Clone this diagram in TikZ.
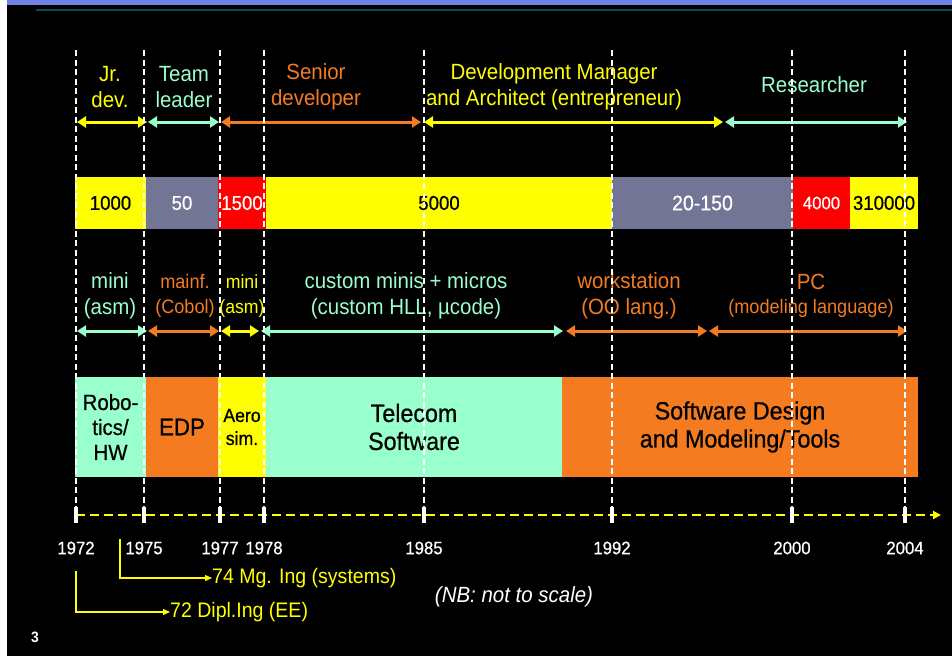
\documentclass[tikz,border=0pt]{standalone}
\usepackage{fontspec}
\setmainfont{Liberation Sans}[FakeStretch=0.93]
\newfontfamily\medfont{Liberation Sans}[FakeStretch=0.93,FakeBold=0.7]
\usetikzlibrary{arrows.meta,calc}
\definecolor{cyel}{HTML}{FFFF00}
\definecolor{caqua}{HTML}{99FFCC}
\definecolor{corange}{HTML}{F47B20}
\definecolor{cgray}{HTML}{737594}
\definecolor{cred}{HTML}{FF0000}
\definecolor{cblue}{HTML}{6F80E6}
\definecolor{cteal}{HTML}{0A4A55}
\newcommand\fsz[2]{\fontsize{#1}{#2}\selectfont}
\tikzset{
  lbl/.style={align=center, inner sep=0pt, outer sep=0pt},
  seg/.style={anchor=north west, inner sep=0pt, outer sep=0pt, align=center, draw=none},
  span/.style={line width=3pt, {Triangle[length=9pt,width=11pt]}-{Triangle[length=9pt,width=11pt]}},
  yearline/.style={white, line width=1.1pt, dash pattern=on 6pt off 3.5pt},
  tickmark/.style={fill=white, draw=none},
  yr/.style={white, inner sep=0pt, font=\medfont\fsz{18}{20}},
  note/.style={cyel, line width=1.3pt, -{Triangle[length=7pt,width=6pt]}},
  notetext/.style={cyel, anchor=west, inner sep=0pt, font=\fsz{21}{24}}
}
\begin{document}
\begin{tikzpicture}[x=1pt,y=-1pt]
\useasboundingbox (0,0) rectangle (952,656);
\fill[black] (0,0) rectangle (952,656);
\fill[white] (0,0) rectangle (7,656);
\fill[cblue] (7,0) rectangle (952,5);
\fill[cteal] (36,9) rectangle (952,11);

% year x positions
\foreach \n/\x in {a/76,b/144,c/220,d/264,e/424,f/612,g/792,h/905}{
  \coordinate (t\n) at (\x,50);
  \coordinate (u\n) at (\x,512);
}
\coordinate (r1) at (0,122);
\coordinate (r3) at (0,331);

% ---- bar 1 ----
\node[seg, fill=cyel, minimum width=71pt, minimum height=52pt, font=\medfont\fsz{20}{22}] (b1a) at (75,177) {1000};
\node[seg, fill=cgray, text=white, minimum width=72pt, minimum height=52pt, font=\medfont\fsz{20}{22}] (b1b) at (146,177) {50};
\node[seg, fill=cred, text=white, minimum width=48pt, minimum height=52pt, font=\medfont\fsz{20}{22}] (b1c) at (218,177) {1500};
\node[seg, fill=cyel, minimum width=346pt, minimum height=52pt, font=\medfont\fsz{20}{22}] (b1d) at (266,177) {5000};
\node[seg, fill=cgray, text=white, minimum width=181pt, minimum height=52pt, font=\medfont\fsz{21}{22}] (b1e) at (612,177) {20-150};
\node[seg, fill=cred, text=white, minimum width=57pt, minimum height=52pt, font=\medfont\fsz{18}{22}] (b1f) at (793,177) {4000};
\node[seg, fill=cyel, minimum width=68pt, minimum height=52pt, font=\medfont\fsz{20}{22}] (b1g) at (850,177) {310000};

% ---- bar 2 ----
\node[seg, fill=caqua, minimum width=71pt, minimum height=100pt, font=\medfont\fsz{22}{25}] (b2a) at (75,377) {Robo-\\tics/\\HW};
\node[seg, fill=corange, minimum width=72pt, minimum height=100pt, font=\medfont\fsz{24}{27}] (b2b) at (146,377) {EDP};
\node[seg, fill=cyel, minimum width=48pt, minimum height=100pt, font=\medfont\fsz{19}{23}] (b2c) at (218,377) {Aero\\sim.};
\node[seg, fill=caqua, minimum width=296pt, minimum height=100pt, font=\medfont\fsz{25}{28}] (b2d) at (266,377) {Telecom\\Software};
\node[seg, fill=corange, minimum width=356pt, minimum height=100pt, font=\medfont\fsz{25}{28}] (b2e) at (562,377) {Software Design\\and Modeling/Tools};

% ---- top role labels ----
\node[lbl, cyel, font=\fsz{22}{26}] (jr) at (110,87) {Jr.\\dev.};
\node[lbl, caqua, font=\fsz{22}{26}] (tl) at (184,87) {Team\\leader};
\node[lbl, corange, font=\fsz{22}{26}] (sd) at (316,87) {Senior\\developer};
\node[lbl, cyel, font=\fsz{22}{26}] (dm) at (554,87) {Development Manager\\and Architect (entrepreneur)};
\node[lbl, caqua, font=\fsz{22}{26}] (rs) at (814,85) {Researcher};

\coordinate (r1end) at (723,122);
\draw[span, cyel] ($(ta|-r1)+(1,0)$) -- ($(tb|-r1)+(3,0)$);
\draw[span, caqua] ($(tb|-r1)+(4,0)$) -- ($(tc|-r1)+(-1,0)$);
\draw[span, corange] ($(tc|-r1)+(1,0)$) -- ($(te|-r1)+(-3,0)$);
\draw[span, cyel] (te|-r1) -- (r1end);
\draw[span, caqua] ($(r1end)+(2,0)$) -- ($(th|-r1)+(2,0)$);

% ---- row 3 labels ----
\node[lbl, caqua, font=\fsz{22}{26}] (m1) at (110,296) {mini\\(asm)};
\node[lbl, corange, font=\fsz{19.5}{25}] (mf) at (185,296) {mainf.\\(Cobol)};
\node[lbl, cyel, font=\fsz{19}{25}] (m2) at (242,296) {mini\\(asm)};
\node[lbl, caqua, font=\fsz{22}{26}] (cm) at (406,296) {custom minis + micros\\(custom HLL, \textmu code)};
\node[lbl, corange, font=\fsz{22}{26}] (ws) at (629,296) {workstation\\(OO lang.)};
\node[lbl, corange, font=\fsz{22}{26}] (pc) at (811,296) {PC\\[-2pt]\fsz{19.5}{22}(modeling language)};

\coordinate (r3a) at (563,331);
\coordinate (r3b) at (566,331);
\coordinate (r3c) at (707,331);
\coordinate (r3d) at (709,331);
\draw[span, caqua] ($(ta|-r3)+(1,0)$) -- ($(tb|-r3)+(3,0)$);
\draw[span, corange] ($(tb|-r3)+(4,0)$) -- ($(tc|-r3)+(-1,0)$);
\draw[span, cyel] ($(tc|-r3)+(1,0)$) -- ($(td|-r3)+(-5,0)$);
\draw[span, caqua] ($(td|-r3)+(-3,0)$) -- (r3a);
\draw[span, corange] (r3b) -- (r3c);
\draw[span, corange] (r3d) -- ($(th|-r3)+(2,0)$);

% ---- vertical year lines ----
\foreach \n in {a,b,c,d,e,f,g,h}{
  \draw[yearline] (t\n) -- (u\n);
}

% ---- axis ----
\coordinate (axs) at (76,515);
\coordinate (axe) at (941,515);
\draw[cyel, line width=2.3pt, dash pattern=on 9pt off 5pt, -{Triangle[length=8pt,width=8pt]}] (axs) -- (axe);
\foreach \n in {a,b,c,d,e,f,g,h}{
  \fill[tickmark] ($(u\n)+(-1.6,-5)$) rectangle ($(u\n)+(1.6,11)$);
}

% ---- years ----
\node[yr] (ya) at (76,548) {1972};
\node[yr] (yb) at (144,548) {1975};
\node[yr] (yc) at (220,548) {1977};
\node[yr] (yd) at (264,548) {1978};
\node[yr] (ye) at (424,548) {1985};
\node[yr] (yf) at (612,548) {1992};
\node[yr] (yg) at (792,548) {2000};
\node[yr] (yh) at (905,548) {2004};

% ---- degree notes ----
\node[notetext] (mg) at (212,578) {74 Mg. Ing (systems)};
\node[notetext] (dp) at (170,612) {72 Dipl.Ing (EE)};
\coordinate (mgs) at (120,539);
\coordinate (dps) at (76,571);
\draw[note] (mgs) |- (mg.west);
\draw[note] (dps) |- (dp.west);

\node[lbl, white, font=\fsz{22}{26}\itshape] (nb) at (514,597) {(NB: not to scale)};
\node[lbl, white, font=\fsz{15}{18}\bfseries] (pg) at (35,637) {3};
\end{tikzpicture}
\end{document}
